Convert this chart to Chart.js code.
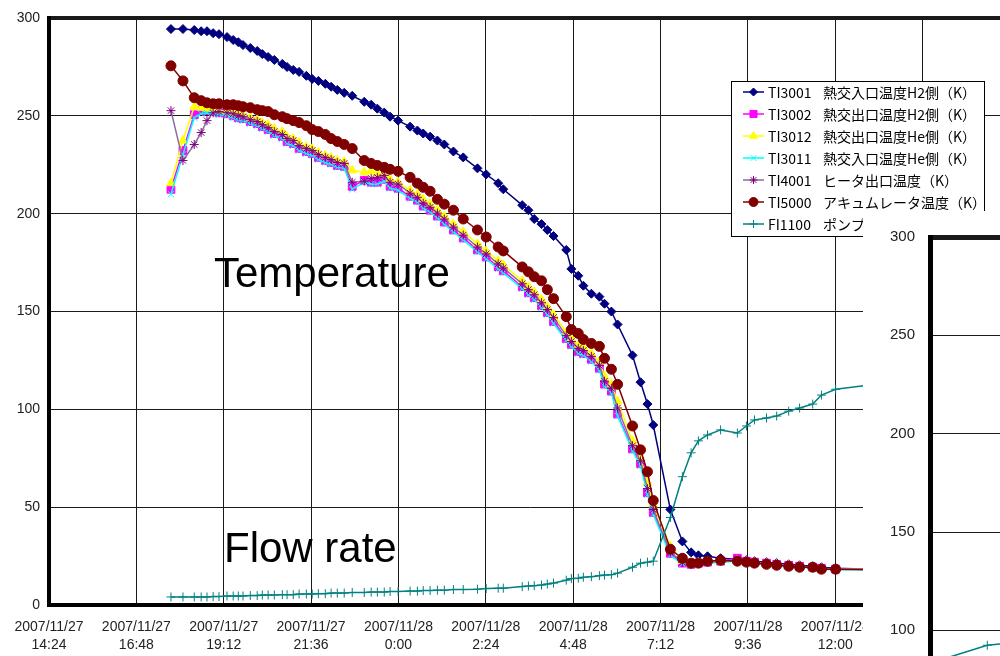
<!DOCTYPE html>
<html>
<head>
<meta charset="utf-8">
<script src="https://cdn.jsdelivr.net/npm/chart.js"></script>
<style>
  html, body { margin: 0; padding: 0; background: #fff; }
  #wrap { position: relative; width: 1000px; height: 656px; overflow: hidden; }
  #main { position: absolute; left: 0; top: 0; }
  #inset { position: absolute; left: 863px; top: 211px; background: #fff; }
  .note {
    position: absolute;
    font-family: "Liberation Sans", Arial, sans-serif;
    font-size: 42px;
    line-height: 1;
    color: #000;
    white-space: nowrap;
  }
</style>
</head>
<body>
<div id="wrap">
  <canvas id="main" width="1100" height="656"></canvas>
  <div class="note" style="left:214px; top:252px;">Temperature</div>
  <div class="note" style="left:224px; top:527px;">Flow rate</div>
  <canvas id="inset" width="500" height="700"></canvas>
</div>
<script>
// hours counted from 2007/11/27 0:00
const times = [
  17.75, 18.08, 18.39, 18.58, 18.74, 18.91, 19.07, 19.29, 19.46, 19.60,
  19.73, 19.93, 20.12, 20.26, 20.42, 20.59, 20.81, 20.94, 21.11, 21.27,
  21.47, 21.63, 21.80, 21.99, 22.15, 22.32, 22.51, 22.73, 23.06, 23.25,
  23.42, 23.61, 23.77, 23.99, 24.32, 24.52, 24.68, 24.87, 25.07, 25.26,
  25.51, 25.78, 26.17, 26.41, 26.74, 26.88, 27.40, 27.57, 27.73, 27.93,
  28.09, 28.26, 28.61, 28.75, 28.94, 29.08, 29.30, 29.52, 29.66, 29.85,
  30.02, 30.43, 30.65, 30.84, 31.00, 31.47, 31.80, 32.04, 32.24, 32.49,
  32.85, 33.31, 33.56, 33.78, 34.11, 34.39, 34.72, 35.02, 35.38, 35.62,
  36.01, 37.00
];

const ti3001 = [
  294.4, 294.4, 293.9, 293.3, 293.3, 292.3, 291.8, 290.3, 288.8, 287.7,
  286.2, 284.7, 283.2, 281.6, 280.1, 278.6, 276.6, 275.0, 273.5, 272.5,
  270.5, 268.9, 267.9, 266.4, 264.9, 263.3, 261.8, 260.3, 257.2, 255.7,
  253.7, 251.7, 249.6, 247.6, 244.5, 242.5, 241.0, 239.4, 237.4, 235.4,
  231.8, 228.8, 223.2, 220.1, 215.6, 212.5, 204.4, 201.8, 197.3, 194.7,
  191.7, 188.6, 181.5, 171.8, 168.3, 163.2, 159.1, 157.6, 154.0, 150.0,
  143.4, 127.6, 113.9, 102.7, 92.0, 48.8, 32.5, 26.9, 25.4, 24.9,
  23.9, 23.4, 22.9, 22.4, 21.9, 21.4, 20.8, 20.3, 19.8, 19.3,
  18.8, 18.3
];

const ti3002 = [
  212.5, 232.3, 250.6, 252.7, 252.7, 252.2, 251.6, 251.1, 250.1, 249.1,
  248.6, 247.1, 246.1, 244.5, 243.0, 241.0, 239.5, 236.9, 235.9, 233.4,
  231.8, 230.8, 228.8, 227.3, 226.2, 224.7, 224.2, 214.0, 217.1, 216.1,
  216.1, 217.6, 214.0, 213.0, 208.9, 206.9, 203.9, 201.8, 198.8, 195.7,
  191.7, 187.6, 181.5, 177.9, 172.9, 170.8, 162.7, 159.6, 157.1, 153.0,
  149.5, 144.9, 136.2, 133.2, 129.6, 128.6, 125.6, 121.0, 112.9, 109.3,
  97.6, 79.8, 72.2, 57.4, 47.3, 26.4, 21.4, 20.8, 21.4, 21.9,
  22.4, 23.9, 22.4, 21.9, 21.4, 20.8, 20.3, 19.8, 19.3, 18.8,
  18.3, 18.3
];

const ti3012 = [
  215.6, 237.4, 254.7, 254.2, 253.7, 253.2, 252.7, 252.2, 251.6, 251.1,
  250.6, 249.1, 248.1, 246.6, 245.5, 243.5, 242.0, 239.4, 238.4, 236.4,
  234.3, 233.3, 231.3, 229.8, 228.8, 227.2, 226.7, 222.2, 221.2, 221.7,
  220.7, 220.2, 217.6, 216.1, 212.0, 209.9, 207.4, 204.9, 201.8, 198.8,
  194.7, 190.7, 184.6, 181.0, 175.9, 173.9, 165.7, 162.7, 160.1, 156.1,
  152.5, 148.4, 139.3, 136.2, 132.7, 131.7, 128.6, 124.5, 116.9, 112.8,
  104.2, 83.9, 75.3, 62.5, 51.4, 30.0, 22.4, 21.4, 21.9, 22.4,
  22.4, 22.9, 22.4, 21.9, 21.4, 20.8, 20.3, 19.8, 19.3, 18.8,
  18.3, 18.3
];

const ti3011 = [
  210.0, 230.3, 249.1, 251.1, 251.6, 251.1, 250.6, 250.1, 249.1, 248.1,
  247.6, 246.1, 245.0, 243.5, 242.0, 240.0, 238.4, 235.9, 234.8, 232.3,
  230.8, 229.8, 227.7, 226.2, 225.2, 223.7, 223.2, 212.5, 216.1, 215.1,
  215.1, 216.6, 213.0, 212.0, 207.9, 205.9, 202.8, 200.8, 197.8, 194.7,
  190.7, 186.6, 180.5, 176.9, 171.8, 169.8, 161.7, 158.6, 156.1, 152.0,
  148.4, 143.9, 135.2, 132.2, 128.6, 127.6, 124.5, 120.0, 111.8, 108.3,
  96.6, 78.8, 71.2, 56.4, 46.3, 25.4, 21.0, 20.5, 21.0, 21.4,
  21.9, 22.4, 21.9, 21.4, 20.8, 20.3, 19.8, 19.3, 18.8, 18.3,
  18.0, 18.0
];

const ti4001 = [
  252.7, 227.2, 235.4, 241.5, 247.6, 251.6, 252.2, 251.6, 251.1, 250.1,
  249.6, 248.1, 247.1, 245.5, 244.0, 242.0, 240.5, 238.4, 237.4, 234.8,
  233.3, 232.3, 230.3, 228.8, 227.7, 226.2, 225.7, 216.1, 216.6, 218.1,
  218.6, 219.6, 216.1, 215.1, 210.5, 208.4, 205.4, 203.3, 200.3, 197.3,
  193.2, 189.1, 183.0, 179.5, 174.4, 172.3, 164.2, 161.2, 158.6, 154.5,
  151.0, 146.9, 137.7, 134.7, 131.2, 130.1, 127.1, 122.5, 114.4, 110.8,
  100.7, 81.4, 73.7, 59.5, 48.8, 27.0, 21.9, 21.0, 21.4, 21.9,
  22.4, 22.9, 22.4, 21.9, 21.4, 20.8, 20.3, 19.8, 19.3, 18.8,
  18.3, 18.3
];

const ti5000 = [
  275.6, 267.9, 259.3, 257.8, 256.7, 256.2, 256.2, 255.7, 255.7, 255.2,
  254.7, 254.2, 253.2, 252.7, 252.2, 250.6, 249.6, 248.6, 247.6, 246.6,
  245.0, 243.0, 242.0, 240.5, 238.4, 236.9, 235.4, 233.3, 227.2, 225.7,
  224.7, 223.7, 222.7, 221.7, 218.6, 215.6, 213.5, 211.5, 207.4, 204.9,
  201.8, 197.3, 191.7, 188.1, 183.0, 181.0, 172.8, 170.3, 167.8, 165.7,
  161.2, 156.6, 147.4, 140.8, 138.8, 135.7, 133.7, 132.2, 126.1, 120.5,
  112.8, 91.5, 79.3, 68.1, 53.4, 28.5, 23.9, 21.4, 21.4, 22.4,
  22.9, 22.4, 21.9, 21.4, 20.8, 20.3, 19.8, 19.3, 19.3, 18.3,
  18.3, 18.0
];

const fi1100 = [
  4.1, 4.1, 4.1, 4.1, 4.1, 4.3, 4.3, 4.6, 4.6, 4.6,
  4.6, 4.8, 4.8, 5.1, 5.1, 5.1, 5.3, 5.3, 5.3, 5.6,
  5.6, 5.6, 5.8, 5.8, 6.1, 6.1, 6.1, 6.4, 6.4, 6.6,
  6.6, 6.6, 6.9, 6.9, 7.1, 7.1, 7.4, 7.4, 7.6, 7.6,
  7.9, 7.9, 8.1, 8.4, 8.6, 8.6, 9.4, 9.7, 9.9, 10.2,
  10.7, 11.2, 12.7, 13.5, 13.7, 14.2, 14.5, 15.0, 15.3, 15.5,
  16.3, 19.3, 21.4, 21.9, 22.4, 44.7, 65.6, 77.8, 83.9, 86.9,
  89.5, 87.9, 91.5, 94.6, 95.6, 96.6, 99.1, 100.7, 102.7, 107.3,
  110.3, 112.6
];

const seriesCodes = ["TI3001", "TI3002", "TI3012", "TI3011", "TI4001", "TI5000", "FI1100"];
const seriesNames = [
  "熱交入口温度H2側（K）",
  "熱交出口温度H2側（K）",
  "熱交出口温度He側（K）",
  "熱交入口温度He側（K）",
  "ヒータ出口温度（K）",
  "アキュムレータ温度（K）",
  "ポンプ流量"
];

const xTicks = [14.4, 16.8, 19.2, 21.6, 24.0, 26.4, 28.8, 31.2, 33.6, 36.0, 38.4, 40.8];
const yTicks = [0, 50, 100, 150, 200, 250, 300];

// the small panel laid over the bottom right corner
const insetX = [0.18, 1.34, 2.5];
const insetFlow = [84.5, 92.4, 95.0];

// excel 2003 default look
const styles = [
  { color: "#000080", line: "#000080", point: "rectRot", radius: 4.5 },
  { color: "#FF00FF", line: "#FF00FF", point: "rect", radius: 5.5 },
  { color: "#FFFF00", line: "#FFFF00", point: "triangle", radius: 5 },
  { color: "#00FFFF", line: "#00FFFF", point: "crossRot", radius: 4.5 },
  { color: "#800080", line: "#8e6a9e", point: "star", radius: 4.5 },
  { color: "#800000", line: "#800000", point: "circle", radius: 5 },
  { color: "#008080", line: "#008080", point: "cross", radius: 4.5 }
];

const tickFont = { family: '"Liberation Sans", Arial, sans-serif', size: 14, lineHeight: 1.3 };

function tickLabel(v) {
  const day = 27 + Math.floor(v / 24 + 1e-6);
  const hrs = v - (day - 27) * 24;
  let h = Math.floor(hrs + 1e-6);
  let m = Math.round((hrs - h) * 60);
  if (m === 60) { h += 1; m = 0; }
  return ["2007/11/" + day, h + ":" + String(m).padStart(2, "0")];
}

const allValues = [ti3001, ti3002, ti3012, ti3011, ti4001, ti5000, fi1100];

const datasets = allValues.map((vals, i) => ({
  label: seriesCodes[i],
  data: vals.map((v, j) => ({ x: times[j], y: v })),
  borderColor: styles[i].line,
  backgroundColor: styles[i].color,
  pointBackgroundColor: styles[i].color,
  pointBorderColor: styles[i].color,
  pointStyle: styles[i].point,
  pointRadius: styles[i].radius,
  pointBorderWidth: 1,
  borderWidth: 1.5,
  tension: 0,
  order: allValues.length - i
}));

// legend box sitting inside the plot
const boxLegend = {
  id: "boxLegend",
  afterDraw(chart) {
    const ctx = chart.ctx;
    ctx.save();
    ctx.fillStyle = "#fff";
    ctx.fillRect(731, 81, 254, 156);
    ctx.strokeStyle = "#000";
    ctx.lineWidth = 1;
    ctx.strokeRect(731.5, 81.5, 253, 155);
    ctx.font = '14px "Noto Sans CJK JP", sans-serif';
    ctx.textBaseline = "middle";
    chart.data.datasets.forEach((ds, i) => {
      const y = 92 + i * 22;
      ctx.strokeStyle = ds.borderColor;
      ctx.lineWidth = 1.5;
      ctx.beginPath();
      ctx.moveTo(743, y);
      ctx.lineTo(764, y);
      ctx.stroke();
      ctx.fillStyle = ds.pointBackgroundColor;
      ctx.strokeStyle = ds.pointBorderColor;
      ctx.lineWidth = 1;
      Chart.helpers.drawPoint(ctx, { pointStyle: ds.pointStyle, rotation: 0, radius: ds.pointRadius - 0.5, borderWidth: 1 }, 753.5, y);
      ctx.fillStyle = "#000";
      ctx.fillText(seriesCodes[i], 768, y + 1);
      ctx.fillText(seriesNames[i], 823, y + 1);
    });
    ctx.restore();
  }
};

new Chart(document.getElementById("main"), {
  type: "line",
  data: { datasets: datasets },
  options: {
    responsive: false,
    animation: false,
    devicePixelRatio: 1,
    layout: { padding: { top: 15, right: 90, bottom: 0, left: 0 } },
    plugins: { legend: { display: false }, tooltip: { enabled: false } },
    scales: {
      x: {
        type: "linear",
        min: 14.4,
        max: 40.8,
        afterBuildTicks: (s) => { s.ticks = xTicks.map((v) => ({ value: v })); },
        afterFit: (s) => { s.height = 51; },
        grid: { color: "#1a1a1a", lineWidth: 1, drawTicks: false },
        border: { color: "#000", width: 4 },
        ticks: {
          color: "#222",
          padding: 13,
          maxRotation: 0,
          autoSkip: false,
          font: tickFont,
          callback: (v) => tickLabel(v)
        }
      },
      y: {
        min: 0,
        max: 300,
        afterBuildTicks: (s) => { s.ticks = yTicks.map((v) => ({ value: v })); },
        afterFit: (s) => { s.width = 49; },
        grid: {
          color: "#1a1a1a",
          lineWidth: (c) => (c.tick && c.tick.value === 300 ? 4 : 1),
          drawTicks: false
        },
        border: { color: "#000", width: 4 },
        ticks: { color: "#222", padding: 9, font: tickFont }
      }
    }
  },
  plugins: [boxLegend]
});

new Chart(document.getElementById("inset"), {
  type: "line",
  data: {
    datasets: [{
      data: insetX.map((x, i) => ({ x: x, y: insetFlow[i] })),
      borderColor: "#008080",
      pointBackgroundColor: "#008080",
      pointBorderColor: "#008080",
      pointStyle: "cross",
      pointRadius: 4.5,
      pointBorderWidth: 1,
      borderWidth: 1.5
    }]
  },
  options: {
    responsive: false,
    animation: false,
    devicePixelRatio: 1,
    layout: { padding: { top: 26, right: 0, bottom: 84, left: 0 } },
    plugins: { legend: { display: false }, tooltip: { enabled: false } },
    scales: {
      x: { type: "linear", display: false, min: 0, max: 10 },
      y: {
        min: 0,
        max: 300,
        afterBuildTicks: (s) => { s.ticks = yTicks.map((v) => ({ value: v })); },
        afterFit: (s) => { s.width = 67; },
        grid: {
          color: "#1a1a1a",
          lineWidth: (c) => (c.tick && c.tick.value === 300 ? 5 : 1),
          drawTicks: false
        },
        border: { color: "#000", width: 5 },
        ticks: { color: "#222", padding: 15, font: { family: '"Liberation Sans", Arial, sans-serif', size: 15 } }
      }
    }
  }
});
</script>
</body>
</html>
